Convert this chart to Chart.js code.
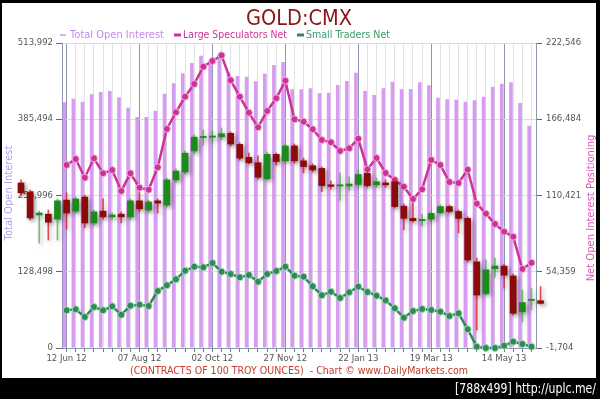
<!DOCTYPE html>
<html>
<head>
<meta charset="utf-8">
<script src="https://cdn.jsdelivr.net/npm/chart.js@4.4.1/dist/chart.umd.min.js"></script>
<style>
html,body{margin:0;padding:0;background:#000;}
#wrap{width:600px;height:399px;}
</style>
</head>
<body>
<div id="wrap"><canvas id="c" width="600" height="399"></canvas></div>
<script>
// ---------- DATA ----------
const dates = ['12 Jun 12','19 Jun 12','26 Jun 12','03 Jul 12','10 Jul 12','17 Jul 12','24 Jul 12','31 Jul 12',
  '07 Aug 12','14 Aug 12','21 Aug 12','28 Aug 12','04 Sep 12','11 Sep 12','18 Sep 12','25 Sep 12',
  '02 Oct 12','09 Oct 12','16 Oct 12','23 Oct 12','30 Oct 12','06 Nov 12','13 Nov 12','20 Nov 12',
  '27 Nov 12','04 Dec 12','11 Dec 12','18 Dec 12','25 Dec 12','01 Jan 13','08 Jan 13','15 Jan 13',
  '22 Jan 13','29 Jan 13','05 Feb 13','12 Feb 13','19 Feb 13','26 Feb 13','05 Mar 13','12 Mar 13',
  '19 Mar 13','26 Mar 13','02 Apr 13','09 Apr 13','16 Apr 13','23 Apr 13','30 Apr 13','07 May 13',
  '14 May 13','21 May 13','28 May 13','04 Jun 13'];

const shownDateLabels = ['12 Jun 12','07 Aug 12','02 Oct 12','27 Nov 12','22 Jan 13','19 Mar 13','14 May 13'];

const totalOpenInterest = [414050,420120,415070,427540,431410,433100,422480,404950,389280,389280,
  399900,428550,446070,462920,480280,492580,485340,495450,464610,458370,
  457200,449440,462250,476910,481970,435960,435960,437650,429220,430230,
  443210,449950,463940,433100,426360,437650,448770,435960,436470,447760,
  442700,421810,419110,418440,415070,417420,423490,440340,445400,447760,
  412870,374620];

const largeSpecsNet = [132850,137260,123510,137770,126740,129170,113730,126740,116160,114690,
  131160,159320,171590,183060,192400,205120,209310,213500,195120,183060,
  171300,160570,172550,181890,194830,166450,164680,159100,151230,149540,
  143140,145130,152180,129690,137990,126970,121820,116890,107850,114980,
  136520,132850,120350,119610,129390,104390,97040,89470,83810,80130,
  56380,61010];

const smallTradersNet = [26020,26750,21090,28440,26020,28960,22780,29400,30130,29180,
  40210,44400,48810,55130,58070,57630,60790,54400,52710,50280,
  51970,47040,52710,54910,58070,51450,50720,43660,37040,39690,
  35060,39250,43370,39470,36750,33220,27490,20570,25500,26970,
  26240,24990,21820,23810,12050,-750,-1704,-1704,0,2930,
  1240,-750];

// weekly gold price candles; the first candle sits 5 weeks before the first date
const candleStartWeek = -5;
const priceOpen  = [1633,1609,1549,1551,1538,1588,1559,1596,1528,1559,1544,1551,1544,1586,1562,1586,1575,1641,1662,1717,
  1752,1753,1754,1763,1734,1700,1686,1644,1708,1691,1730,1691,1678,1671,1628,1625,1625,1629,1658,1628,
  1633,1636,1572,1540,1534,1538,1555,1571,1558,1540,1426,1343,1408,1415,1389,1295,1325,1324];
const priceHigh  = [1641,1614,1559,1562,1591,1607,1596,1601,1562,1591,1554,1557,1591,1607,1588,1591,1646,1670,1717,1759,
  1772,1769,1777,1767,1738,1711,1704,1714,1711,1735,1735,1698,1683,1675,1638,1659,1649,1667,1664,1646,
  1641,1646,1578,1580,1551,1559,1575,1575,1562,1544,1436,1431,1436,1420,1394,1352,1357,1361];
const priceLow   = [1601,1536,1475,1483,1483,1512,1554,1515,1523,1538,1538,1528,1538,1559,1557,1554,1570,1635,1656,1711,
  1732,1738,1748,1730,1693,1683,1643,1641,1680,1688,1685,1659,1662,1610,1617,1588,1614,1625,1622,1622,
  1622,1567,1510,1530,1520,1533,1551,1554,1502,1426,1247,1339,1386,1357,1287,1269,1300,1315];
const priceClose = [1607,1541,1554,1530,1586,1554,1591,1528,1557,1544,1549,1544,1586,1565,1583,1580,1641,1664,1711,1753,
  1755,1756,1762,1735,1698,1686,1648,1708,1689,1730,1691,1676,1667,1626,1624,1628,1630,1655,1626,1636,
  1628,1571,1540,1534,1537,1553,1571,1558,1540,1431,1339,1405,1415,1391,1291,1319,1327,1317];

const leftTicks  = [0, 128498, 256996, 385494, 513992];
const rightTicks = [-1704, 54359, 110421, 166484, 222546];

// ---------- STYLE ----------
const FONT = "'DejaVu Sans', Verdana, sans-serif";
const UP_BODY = '#1c8a1c', DOWN_BODY = '#8c0a0a';
const UP_WICK = 'rgba(70,180,70,0.75)', DOWN_WICK = 'rgba(225,45,45,0.85)';

const candleIdx = priceOpen.map((_, k) => candleStartWeek + k);
const isUp = priceOpen.map((o, k) => priceClose[k] >= o);

const decor = {
  id: 'decor',
  beforeDraw(chart) {
    const ctx = chart.ctx;
    ctx.save();
    ctx.fillStyle = '#000';
    ctx.fillRect(0, 0, chart.width, chart.height);
    ctx.fillStyle = '#fff';
    ctx.fillRect(2, 3, 594, 375);
    ctx.restore();
  },
  beforeDatasetDraw(chart, args) {
    if (args.meta.yAxisID === 'yp') {
      const ctx = chart.ctx;
      ctx.save();
      ctx.shadowColor = 'rgba(0,0,0,0.35)';
      ctx.shadowBlur = 4;
      ctx.shadowOffsetX = 2;
      ctx.shadowOffsetY = 2;
    }
  },
  afterDatasetDraw(chart, args) {
    if (args.meta.yAxisID === 'yp') chart.ctx.restore();
  },
  afterDraw(chart) {
    const ctx = chart.ctx;
    ctx.save();
    ctx.textBaseline = 'middle';
    // title
    ctx.font = '22px ' + FONT;
    ctx.fillStyle = '#8b1515';
    ctx.textAlign = 'center';
    ctx.fillText('GOLD:CMX', 299, 19, 106);
    // legend
    ctx.font = '10px ' + FONT;
    ctx.textAlign = 'left';
    const items = [
      {dx: 60, w: 6, tx: 70, tw: 94, lc: '#cc99ee', tc: '#c48be6', text: 'Total Open Interest', lw: 1.5},
      {dx: 174, w: 7, tx: 183, tw: 104, lc: '#cc3399', tc: '#cc3399', text: 'Large Speculators Net', lw: 3},
      {dx: 297, w: 7, tx: 306, tw: 84, lc: '#2e8b57', tc: '#3a9a6a', text: 'Small Traders Net', lw: 3}
    ];
    items.forEach(it => {
      ctx.strokeStyle = it.lc;
      ctx.lineWidth = it.lw;
      ctx.beginPath();
      ctx.moveTo(it.dx, 35); ctx.lineTo(it.dx + it.w, 35);
      ctx.stroke();
      ctx.fillStyle = it.tc;
      ctx.fillText(it.text, it.tx, 35, it.tw);
    });
    // axis titles
    ctx.textAlign = 'center';
    ctx.save();
    ctx.translate(9, 193);
    ctx.rotate(-Math.PI / 2);
    ctx.fillStyle = '#a8a2ee';
    ctx.fillText('Total Open Interest', 0, 0);
    ctx.restore();
    ctx.save();
    ctx.translate(591, 208);
    ctx.rotate(-Math.PI / 2);
    ctx.fillStyle = '#dd55bb';
    ctx.fillText('Net Open Interest Positioning', 0, 0);
    ctx.restore();
    // footer
    ctx.font = '10.5px ' + FONT;
    ctx.fillStyle = '#c23b2b';
    ctx.fillText('(CONTRACTS OF 100 TROY OUNCES)  - Chart \u00A9 www.DailyMarkets.com', 299, 371, 338);
    // watermark
    ctx.font = '14px ' + FONT;
    ctx.fillStyle = '#fff';
    ctx.textAlign = 'right';
    ctx.fillText('[788x499] http://uplc.me/', 596, 389, 141);
    ctx.restore();
  }
};

new Chart(document.getElementById('c'), {
  type: 'bar',
  data: {
    labels: dates,
    datasets: [
      {
        type: 'bar', label: 'Total Open Interest', data: totalOpenInterest,
        xAxisID: 'x', yAxisID: 'y',
        backgroundColor: 'rgba(205,130,236,0.8)', borderWidth: 0,
        barPercentage: 0.8, categoryPercentage: 1, order: 5
      },
      {
        type: 'line', label: 'Small Traders Net', data: smallTradersNet,
        xAxisID: 'x', yAxisID: 'yr',
        borderColor: '#2e8b57', borderWidth: 2.5, tension: 0,
        pointRadius: 3.5, pointBackgroundColor: '#2e8b57', pointBorderColor: '#a6dbbb', pointBorderWidth: 1,
        clip: false, order: 3
      },
      {
        type: 'line', label: 'Large Speculators Net', data: largeSpecsNet,
        xAxisID: 'x', yAxisID: 'yr',
        borderColor: '#cc3399', borderWidth: 2.5, tension: 0,
        pointRadius: 3.5, pointBackgroundColor: '#cc3399', pointBorderColor: '#f3b3dc', pointBorderWidth: 1,
        clip: false, order: 2
      },
      {
        type: 'bar', label: 'wick',
        data: candleIdx.map((x, k) => ({x: x, y: [priceLow[k], priceHigh[k]]})),
        xAxisID: 'xc', yAxisID: 'yp',
        backgroundColor: isUp.map(u => u ? UP_WICK : DOWN_WICK),
        barThickness: 1, grouped: false, borderWidth: 0, clip: false, order: 1
      },
      {
        type: 'bar', label: 'body',
        data: candleIdx.map((x, k) => ({x: x, y: [priceOpen[k], priceClose[k]]})),
        xAxisID: 'xc', yAxisID: 'yp',
        backgroundColor: isUp.map(u => u ? UP_BODY : DOWN_BODY),
        barThickness: 6, minBarLength: 1, grouped: false, borderWidth: 0, clip: false, order: 0
      }
    ]
  },
  options: {
    responsive: false,
    animation: false,
    devicePixelRatio: 1,
    layout: {padding: {top: 43, left: 0, right: 0, bottom: 0}},
    plugins: {legend: {display: false}, title: {display: false}, tooltip: {enabled: false}},
    scales: {
      x: {
        type: 'category', offset: true, position: 'bottom',
        grid: {
          offset: false,
          color: c => (shownDateLabels.includes(dates[c.index]) ? '#8c98b0' : '#e2e2e2'),
          tickColor: '#777', tickLength: 4, lineWidth: 1
        },
        border: {color: '#8c98b0'},
        ticks: {
          autoSkip: false, maxRotation: 0, minRotation: 0, padding: 2,
          color: '#555', font: {family: FONT, size: 8.5},
          callback: (v, i) => (shownDateLabels.includes(dates[i]) ? dates[i] : '')
        },
        afterFit: s => { s.height = 51; }
      },
      y: {
        position: 'left', min: 0, max: 513992,
        afterBuildTicks: s => { s.ticks = leftTicks.map(v => ({value: v})); },
        grid: {color: '#dcdcdc', tickColor: '#666', tickLength: 6},
        border: {color: '#8c98b0'},
        ticks: {color: '#555', padding: 3, font: {family: FONT, size: 8.5},
          callback: v => Number(v).toLocaleString('en-US')},
        afterFit: s => { s.width = 62; }
      },
      yr: {
        position: 'right', min: -1704, max: 222546,
        afterBuildTicks: s => { s.ticks = rightTicks.map(v => ({value: v})); },
        grid: {drawOnChartArea: false, tickColor: '#666', tickLength: 6},
        border: {color: '#8c98b0'},
        ticks: {color: '#555', padding: 4, crossAlign: 'near', font: {family: FONT, size: 8.5},
          callback: v => Number(v).toLocaleString('en-US')},
        afterFit: s => { s.width = 64; }
      },
      xc: {type: 'linear', display: false, offset: false, min: -0.5, max: dates.length - 0.5},
      yp: {type: 'linear', display: false, min: 1200, max: 2000}
    }
  },
  plugins: [decor]
});
</script>
</body>
</html>
